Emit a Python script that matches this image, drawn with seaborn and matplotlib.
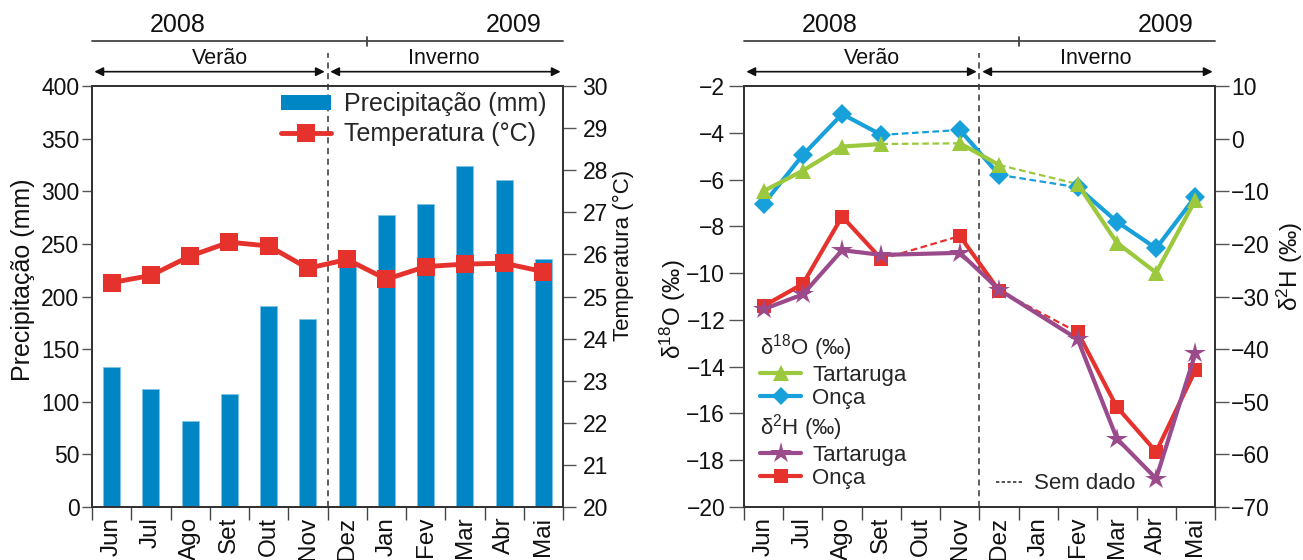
import numpy as np
import matplotlib
matplotlib.use("Agg")
import matplotlib.pyplot as plt
import matplotlib.transforms as mtransforms
from matplotlib.patches import Patch
from matplotlib.lines import Line2D
import seaborn as sns

# ---------------- data ----------------
months = ["Jun", "Jul", "Ago", "Set", "Out", "Nov", "Dez", "Jan", "Fev", "Mar", "Abr", "Mai"]
precip_mm = [133, 112, 82, 107, 191, 179, 232, 277, 288, 324, 311, 236]
temp_c = [25.33, 25.50, 25.96, 26.29, 26.20, 25.67, 25.88, 25.41, 25.71, 25.77, 25.79, 25.59]

nan = np.nan
d18o_tartaruga = [-6.49, -5.62, -4.59, -4.48, nan, -4.45, -5.38, nan, -6.19, -8.70, -9.98, -6.87]
d18o_onca = [-7.04, -4.95, -3.20, -4.09, nan, -3.88, -5.80, nan, -6.33, -7.80, -8.94, -6.73]
d2h_tartaruga = [-32.4, -29.6, -21.2, -22.1, nan, -21.7, -28.7, nan, -38.1, -57.0, -64.6, -40.8]
d2h_onca = [-31.8, -27.6, -14.8, -22.9, nan, -18.5, -28.9, nan, -36.8, -51.0, -59.5, -44.0]

years = ["2008", "2009"]
seasons = ["Verão", "Inverno"]

# ---------------- style ----------------
sns.set_theme(style="ticks")
plt.rcParams["font.family"] = ["Liberation Sans", "DejaVu Sans"]
plt.rcParams["mathtext.fontset"] = "custom"
plt.rcParams["mathtext.rm"] = "Liberation Sans"
plt.rcParams["mathtext.it"] = "Liberation Sans:italic"
plt.rcParams["axes.linewidth"] = 1.3
plt.rcParams["axes.edgecolor"] = "#333333"

C_BAR = "#0086C4"
C_TEMP = "#E6322D"
C_GREEN = "#9BC83C"
C_BLUE = "#17A0DA"
C_PURPLE = "#9B4B8C"
C_RED = "#E6322D"
TXT = "#111111"

TICK_FS = 16.5
MONTH_FS = 17.5
fig = plt.figure(figsize=(13.03, 5.6), dpi=100)
axL = fig.add_axes([92 / 1303, 53 / 560, 471 / 1303, 421 / 560])
axR = fig.add_axes([744 / 1303, 53 / 560, 471 / 1303, 421 / 560])

x = np.arange(len(months))


def month_axis(ax):
    ax.set_xlim(-0.5, len(months) - 0.5)
    ax.set_xticks(np.arange(-0.5, len(months), 1.0))
    ax.set_xticklabels([])
    ax.set_xticks(x, minor=True)
    ax.set_xticklabels(months, minor=True, rotation=90, fontsize=MONTH_FS, color=TXT)
    ax.tick_params(axis="x", which="major", length=9.5, width=1.0, color="#444444", direction="out")
    ax.tick_params(axis="x", which="minor", length=0, pad=7.0)
    ax.set_xlabel("")


def header(ax):
    """Year bar, season arrows and the summer/winter divider above the axes."""
    tr = mtransforms.blended_transform_factory(ax.transData, ax.transAxes)
    ax.axvline(5.5, ymin=0, ymax=1.078, clip_on=False, color="#333333",
               lw=1.1, ls=(0, (4, 3)), zorder=1)
    ax.add_line(Line2D([-0.5, 11.5], [1.107, 1.107], transform=tr, clip_on=False,
                       color="#444444", lw=1.3))
    ax.add_line(Line2D([6.5, 6.5], [1.094, 1.116], transform=tr, clip_on=False,
                       color="#444444", lw=1.3))
    ax.text(1.69, 1.145, years[0], transform=tr, ha="center", va="center",
            fontsize=18, color=TXT)
    ax.text(10.25, 1.145, years[1], transform=tr, ha="center", va="center",
            fontsize=18, color=TXT)
    ax.text(2.76, 1.066, seasons[0], transform=tr, ha="center", va="center",
            fontsize=15.5, color=TXT)
    ax.text(8.47, 1.066, seasons[1], transform=tr, ha="center", va="center",
            fontsize=15.5, color=TXT)
    arrow = dict(arrowstyle="<|-|>", color="#111111", lw=1.2, mutation_scale=13,
                 shrinkA=0, shrinkB=0)
    ax.annotate("", xy=(-0.44, 1.034), xytext=(5.43, 1.034), xycoords=tr,
                textcoords=tr, arrowprops=arrow, annotation_clip=False)
    ax.annotate("", xy=(5.57, 1.034), xytext=(11.44, 1.034), xycoords=tr,
                textcoords=tr, arrowprops=arrow, annotation_clip=False)


# ---------------- left panel: precipitation and temperature ----------------
sns.barplot(x=months, y=precip_mm, ax=axL, color=C_BAR, saturation=1, width=0.43,
            edgecolor="#7FC4E8", linewidth=0.6, zorder=2)
axL.set_ylim(0, 400)
axL.set_yticks(np.arange(0, 401, 50))
axL.tick_params(axis="y", labelsize=TICK_FS, length=7.5, width=1.0, pad=1.5,
                color="#555555", labelcolor=TXT)
axL.set_ylabel("Precipitação (mm)", fontsize=18, color=TXT)
axL.yaxis.set_label_coords(-0.121, 0.54)
month_axis(axL)
header(axL)

axT = axL.twinx()
sns.lineplot(x=x, y=temp_c, ax=axT, color=C_TEMP, marker="s", markersize=13,
             markeredgewidth=0, linewidth=3.5, legend=False)
axT.set_ylim(20, 30)
axT.set_yticks(np.arange(20, 31, 1))
axT.tick_params(axis="y", labelsize=TICK_FS, length=9, width=1.0, pad=5,
                color="#555555", labelcolor=TXT)
axT.set_ylabel("Temperatura (°C)", fontsize=16, color=TXT)
axT.yaxis.set_label_coords(1.106, 0.597)
axT.set_xlabel("")

axT.legend(
    handles=[Patch(facecolor=C_BAR, edgecolor="none"),
             Line2D([], [], color=C_TEMP, marker="s", markersize=13,
                    markeredgewidth=0, lw=3.5)],
    labels=["Precipitação (mm)", "Temperatura (°C)"],
    loc="upper right", bbox_to_anchor=(0.966, 0.985), frameon=False,
    fontsize=18, borderpad=0, borderaxespad=0, handlelength=2.0,
    handleheight=0.6, handletextpad=0.55, labelspacing=0.24,
)


# ---------------- right panel: isotopes ----------------
def isotope_series(ax, values, color, marker, ms, solid_gaps=False):
    v = np.asarray(values, dtype=float)
    valid = np.where(~np.isnan(v))[0]
    # bridges across months without samples
    for i, j in zip(valid[:-1], valid[1:]):
        if j - i > 1:
            if solid_gaps:
                ax.plot([i, j], [v[i], v[j]], color=color, lw=3.0, zorder=1.9,
                        solid_capstyle="round")
            else:
                ax.plot([i, j], [v[i], v[j]], color=color, lw=1.6,
                        ls=(0, (3, 1.6)), zorder=1.8)
    # contiguous sampled runs
    runs = np.split(valid, np.where(np.diff(valid) > 1)[0] + 1)
    for run in runs:
        sns.lineplot(x=run, y=v[run], ax=ax, color=color, marker=marker,
                     markersize=ms, markeredgewidth=0, linewidth=3.0,
                     legend=False, sort=False, zorder=2)


isotope_series(axR, d18o_onca, C_BLUE, "D", 10)
isotope_series(axR, d18o_tartaruga, C_GREEN, "^", 12)
axR.set_ylim(-20, -2)
axR.set_yticks(np.arange(-20, -1, 2))
axR.tick_params(axis="y", labelsize=TICK_FS, length=11, width=1.0, pad=2.5,
                color="#555555", labelcolor=TXT)
axR.set_ylabel("δ$^{18}$O (‰)", fontsize=17.5, color=TXT)
axR.yaxis.set_label_coords(-0.118, 0.47)
month_axis(axR)
header(axR)

axH = axR.twinx()
isotope_series(axH, d2h_onca, C_RED, "s", 10)
isotope_series(axH, d2h_tartaruga, C_PURPLE, "*", 16, solid_gaps=True)
axH.set_ylim(-70, 10)
axH.set_yticks(np.arange(-70, 11, 10))
axH.tick_params(axis="y", labelsize=TICK_FS, length=10, width=1.0, pad=1.5,
                color="#555555", labelcolor=TXT)
axH.set_ylabel("δ$^{2}$H (‰)", fontsize=17.5, color=TXT)
axH.yaxis.set_label_coords(1.128, 0.57)
axH.set_xlabel("")

leg_kw = dict(frameon=False, fontsize=16, title_fontsize=16, borderpad=0,
              borderaxespad=0, handlelength=1.85, handletextpad=0.5,
              labelspacing=0.08, alignment="left", loc="upper left")
legA = axH.legend(
    handles=[Line2D([], [], color=C_GREEN, marker="^", ms=12, mew=0, lw=3.0),
             Line2D([], [], color=C_BLUE, marker="D", ms=9, mew=0, lw=3.0)],
    labels=["Tartaruga", "Onça"], title="δ$^{18}$O (‰)",
    bbox_to_anchor=(0.034, 0.415), **leg_kw)
axH.add_artist(legA)
legB = axH.legend(
    handles=[Line2D([], [], color=C_PURPLE, marker="*", ms=16, mew=0, lw=3.0),
             Line2D([], [], color=C_RED, marker="s", ms=10, mew=0, lw=3.0)],
    labels=["Tartaruga", "Onça"], title="δ$^{2}$H (‰)",
    bbox_to_anchor=(0.034, 0.225), **leg_kw)
axH.add_artist(legB)
axH.legend(
    handles=[Line2D([], [], color="#333333", lw=1.2, ls=(0, (2, 1.4)))],
    labels=["Sem dado"], loc="lower left", bbox_to_anchor=(0.536, 0.03),
    frameon=False, fontsize=16, borderpad=0, borderaxespad=0,
    handlelength=1.17, handletextpad=0.54)

for ax in (axL, axT, axR, axH):
    for sp in ax.spines.values():
        sp.set_visible(True)
        sp.set_color("#333333")
        sp.set_linewidth(1.3)

fig.savefig("out.png", dpi=100)
